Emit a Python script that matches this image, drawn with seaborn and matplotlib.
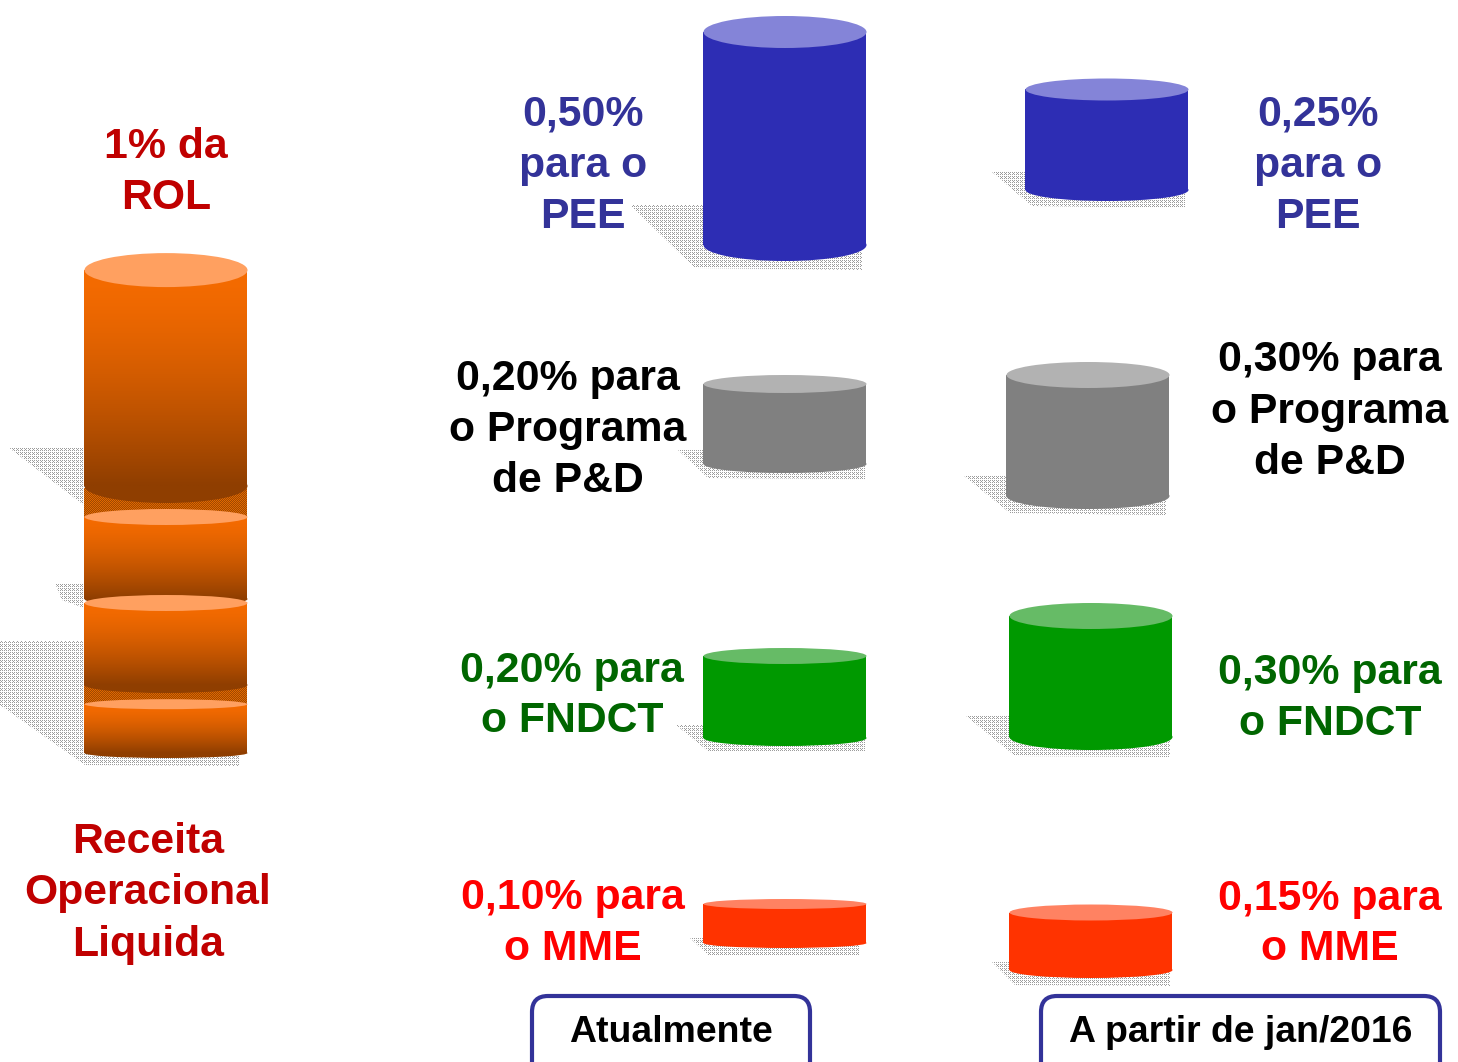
import numpy as np
import pandas as pd
import matplotlib
matplotlib.use("Agg")
import matplotlib.pyplot as plt
from matplotlib.patches import Ellipse, FancyBboxPatch, Polygon
import seaborn as sns

# ---- values (share of ROL, %) ----
atual_values = [0.50, 0.20, 0.20, 0.10]
novo_values = [0.25, 0.30, 0.30, 0.15]
rol_values = [0.51, 0.20, 0.20, 0.12]
categories = ["PEE", "P&D", "FNDCT", "MME"]

# ---- layout (pixels) ----
W, H = 1458, 1062
PX_PER_PCT = 490.0
atual_cx = [785, 785, 785, 785]
atual_bottom = [261, 473, 746, 948]
atual_cap = [16, 9, 8, 5]
novo_cx = [1107, 1088, 1091, 1091]
novo_bottom = [201, 509, 750, 978]
novo_cap = [11, 13, 13, 8]
rol_cx = [166, 166, 166, 166]
rol_bottom = [503, 607, 693, 758]
rol_cap = [17, 8, 8, 5]
CYL_W = 163

# ---- styles ----
body_colors = ["#2D2DB4", "#808080", "#009900", "#FF3300"]
cap_colors = ["#8484D8", "#B2B2B2", "#66BB66", "#FF8262"]
ORANGE_TOP, ORANGE_BOTTOM, ORANGE_CAP = "#F56B00", "#8F3E00", "#FFA060"

shadows = [
    [(84, 447), (8, 447), (85, 506), (245, 510), (245, 495)],
    [(84, 583), (55, 583), (62, 600), (84, 608)],
    [(84, 641), (0, 641), (0, 705), (85, 765), (240, 766), (240, 745)],
    [(703, 205), (630, 205), (695, 268), (862, 270), (862, 250)],
    [(1027, 172), (992, 172), (1032, 206), (1185, 208), (1185, 190)],
    [(703, 450), (678, 450), (708, 478), (865, 479), (865, 465)],
    [(1007, 475), (963, 475), (1010, 513), (1166, 515), (1166, 495)],
    [(703, 725), (676, 725), (708, 751), (865, 752), (865, 735)],
    [(1010, 715), (965, 715), (1015, 756), (1170, 757), (1170, 740)],
    [(703, 938), (690, 938), (708, 955), (860, 955), (860, 942)],
    [(1010, 962), (992, 962), (1015, 985), (1170, 986), (1170, 970)],
]
orange_gaps = [
    [(84, 488), (247, 488), (247, 520), (84, 520)],
    [(84, 680), (247, 680), (247, 708), (84, 708)],
]

texts = [
    ("1% da", 166, 143, "#C00000"), ("ROL", 166, 194, "#C00000"),
    ("Receita", 148, 838, "#C00000"), ("Operacional", 148, 889, "#C00000"),
    ("Liquida", 148, 941, "#C00000"),
    ("0,50%", 583, 111, "#333399"), ("para o", 583, 162, "#333399"), ("PEE", 583, 213, "#333399"),
    ("0,25%", 1318, 111, "#333399"), ("para o", 1318, 162, "#333399"), ("PEE", 1318, 213, "#333399"),
    ("0,20% para", 568, 375, "black"), ("o Programa", 568, 426, "black"), ("de P&D", 568, 477, "black"),
    ("0,30% para", 1330, 356, "black"), ("o Programa", 1330, 408, "black"), ("de P&D", 1330, 459, "black"),
    ("0,20% para", 572, 667, "#006600"), ("o FNDCT", 572, 717, "#006600"),
    ("0,30% para", 1330, 669, "#006600"), ("o FNDCT", 1330, 720, "#006600"),
    ("0,10% para", 573, 894, "#FF0000"), ("o MME", 573, 945, "#FF0000"),
    ("0,15% para", 1330, 895, "#FF0000"), ("o MME", 1330, 945, "#FF0000"),
]
boxes = [("Atualmente", 532, 810, 671), ("A partir de jan/2016", 1041, 1440, 1241)]

sns.set_theme(style="white")
plt.rcParams["font.family"] = ["Liberation Sans", "DejaVu Sans"]

fig = plt.figure(figsize=(W / 100, H / 100), dpi=100, facecolor="white")
ax = fig.add_axes([0, 0, 1, 1])
ymax = H / PX_PER_PCT


def yval(py):
    return (H - py) / PX_PER_PCT


# stippled shadows
yy, xx = np.indices((H, W))
dots = ((xx % 2 == 0) & (yy % 2 == 0)) | ((xx % 4 == 1) & (yy % 4 == 1))
rgba = np.ones((H, W, 4))
rgba[..., :3] = 0.45
rgba[..., 3] = np.where(dots, 0.7, 0.0)
for poly in shadows:
    pts = [(x, yval(y)) for x, y in poly]
    im = ax.imshow(rgba, extent=(0, W, 0, ymax), origin="upper", aspect="auto",
                   interpolation="nearest", zorder=1)
    im.set_clip_path(Polygon(pts, closed=True, transform=ax.transData))

# stippled dark orange between the stacked segments
rgba2 = np.ones((H, W, 4))
rgba2[..., :3] = matplotlib.colors.to_rgb("#A04800")
rgba2[..., 3] = 1.0
rgba2[((xx + yy) % 2 == 0)] = list(matplotlib.colors.to_rgb("#E06800")) + [1.0]
for poly in orange_gaps:
    pts = [(x, yval(y)) for x, y in poly]
    im = ax.imshow(rgba2, extent=(0, W, 0, ymax), origin="upper", aspect="auto",
                   interpolation="nearest", zorder=2)
    im.set_clip_path(Polygon(pts, closed=True, transform=ax.transData))


def cylinder(value, cx, bottom_px, cap_px, body, cap, z, grad=None):
    ry = cap_px / PX_PER_PCT
    base = yval(bottom_px) + ry
    h = value - 2 * ry
    before = len(ax.patches)
    df = pd.DataFrame({"x": [cx], "v": [h]})
    sns.barplot(data=df, x="x", y="v", native_scale=True, width=CYL_W, color=body,
                saturation=1, bottom=base, ax=ax, errorbar=None, zorder=z,
                linewidth=0, legend=False)
    bar = ax.patches[before]
    bot_color = grad[1] if grad else body
    ax.add_patch(Ellipse((cx, base), CYL_W, 2 * ry, fc=bot_color, ec="none", zorder=z))
    if grad:
        c0 = np.array(matplotlib.colors.to_rgb(grad[0]))
        c1 = np.array(matplotlib.colors.to_rgb(grad[1]))
        t = np.linspace(0, 1, 128)[:, None] ** 1.5
        g = (c0 * (1 - t) + c1 * t)[:, None, :]
        im = ax.imshow(g, extent=(cx - CYL_W / 2, cx + CYL_W / 2, base, base + h),
                       origin="upper", aspect="auto", zorder=z + 0.1)
        im.set_clip_path(bar)
    ax.add_patch(Ellipse((cx, base + h), CYL_W, 2 * ry, fc=cap, ec="none", zorder=z + 0.2))


for i in range(4):
    cylinder(rol_values[i], rol_cx[i], rol_bottom[i], rol_cap[i], ORANGE_TOP, ORANGE_CAP,
             3 + i, grad=(ORANGE_TOP, ORANGE_BOTTOM))
    cylinder(atual_values[i], atual_cx[i], atual_bottom[i], atual_cap[i],
             body_colors[i], cap_colors[i], 3)
    cylinder(novo_values[i], novo_cx[i], novo_bottom[i], novo_cap[i],
             body_colors[i], cap_colors[i], 3)

ax.set_xlim(0, W)
ax.set_ylim(0, ymax)
ax.axis("off")

# overlay in pixel units for the annotations
ov = fig.add_axes([0, 0, 1, 1], facecolor="none")
ov.set_xlim(0, W)
ov.set_ylim(H, 0)
ov.axis("off")
for s, x, y, c in texts:
    ov.text(x, y + 15, s, color=c, fontsize=30.8, fontweight="bold", ha="center", va="baseline")
for s, x0, x1, cx in boxes:
    ov.add_patch(FancyBboxPatch((x0 + 16, 996 + 16), x1 - x0 - 32, 90,
                                boxstyle="round,pad=16,rounding_size=16",
                                fc="white", ec="#333399", lw=3, zorder=2))
    ov.text(cx, 1042, s, color="black", fontsize=26.9, fontweight="bold",
            ha="center", va="baseline", zorder=3)

fig.savefig("out.png", dpi=100)
